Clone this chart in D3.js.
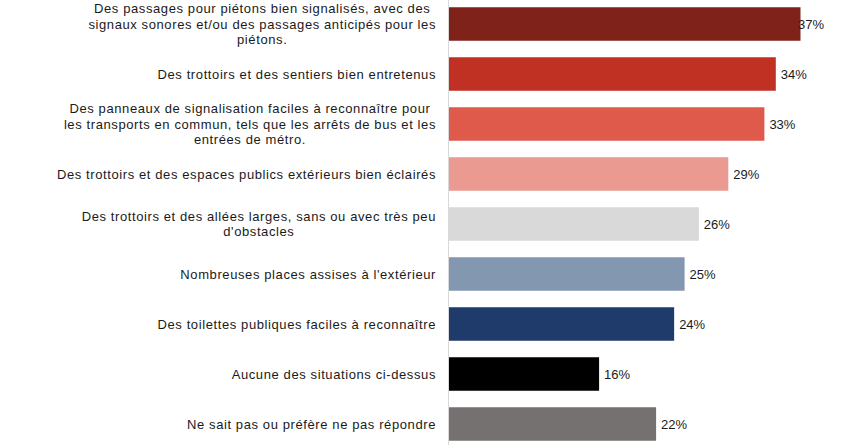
<!DOCTYPE html>
<html>
<head>
<meta charset="utf-8">
<script src="https://cdn.jsdelivr.net/npm/d3@7"></script>
<style>
  html, body { margin: 0; padding: 0; background: #fff; }
  svg { display: block; }
  text { font-family: "Liberation Sans", Arial, sans-serif; }
</style>
</head>
<body>
<svg id="chart" width="864" height="448"></svg>
<script>
const categories = [
  "Des passages pour piétons bien signalisés, avec des\nsignaux sonores et/ou des passages anticipés pour les\npiétons.",
  "Des trottoirs et des sentiers bien entretenus",
  "Des panneaux de signalisation faciles à reconnaître pour\nles transports en commun, tels que les arrêts de bus et les\nentrées de métro.",
  "Des trottoirs et des espaces publics extérieurs bien éclairés",
  "Des trottoirs et des allées larges, sans ou avec très peu\nd'obstacles",
  "Nombreuses places assises à l'extérieur",
  "Des toilettes publiques faciles à reconnaître",
  "Aucune des situations ci-dessus",
  "Ne sait pas ou préfère ne pas répondre"
];
const values = [37.0, 34.4, 33.2, 29.4, 26.3, 24.8, 23.7, 15.8, 21.8];
const colors = ["#7f2219", "#c03124", "#e05a4b", "#eb9a91", "#d9d9d9", "#8497b0", "#1f3b6b", "#000000", "#767171"];

const svg = d3.select("#chart");
const x0 = 449;

const x = d3.scaleLinear().domain([0, 40]).range([x0, x0 + 380]);
const y = d3.scaleBand().domain(categories).range([-1, 449])
  .paddingInner(0.33).paddingOuter(0.165);

// axis line
svg.append("line")
  .attr("x1", x0 - 0.5).attr("x2", x0 - 0.5)
  .attr("y1", 0).attr("y2", 445)
  .attr("stroke", "#d9d9d9").attr("stroke-width", 1);

// bars
svg.selectAll("rect.bar").data(categories).join("rect")
  .attr("class", "bar")
  .attr("x", x(0))
  .attr("y", d => y(d))
  .attr("width", (d, i) => x(values[i]) - x(0))
  .attr("height", y.bandwidth())
  .attr("fill", (d, i) => colors[i]);

// value labels
const fmt = d3.format(".0f");
svg.selectAll("text.val").data(categories).join("text")
  .attr("class", "val")
  .attr("x", (d, i) => Math.min(x(values[i]) + 5, 798))
  .attr("y", (d) => y(d) + y.bandwidth() / 2)
  .attr("dy", "0.35em")
  .attr("font-size", 13)
  .attr("fill", "#1a1a1a")
  .text((d, i) => fmt(values[i]) + "%");

// category labels (multi-line centered block, right-aligned)
const lineH = 15.5;
const rightEdge = 436;
categories.forEach(cat => {
  const lines = cat.split("\n");
  const cy = y(cat) + y.bandwidth() / 2;
  const t = svg.append("text")
    .attr("font-size", 13)
    .attr("letter-spacing", 0.6)
    .attr("fill", "#1a1a1a")
    .attr("text-anchor", "middle");
  const spans = lines.map((ln, k) => t.append("tspan")
    .attr("y", cy + (k - (lines.length - 1) / 2) * lineH)
    .attr("dy", "0.35em")
    .text(ln));
  const maxW = d3.max(spans, s => s.node().getComputedTextLength());
  spans.forEach(s => s.attr("x", rightEdge - maxW / 2));
});
</script>
</body>
</html>
